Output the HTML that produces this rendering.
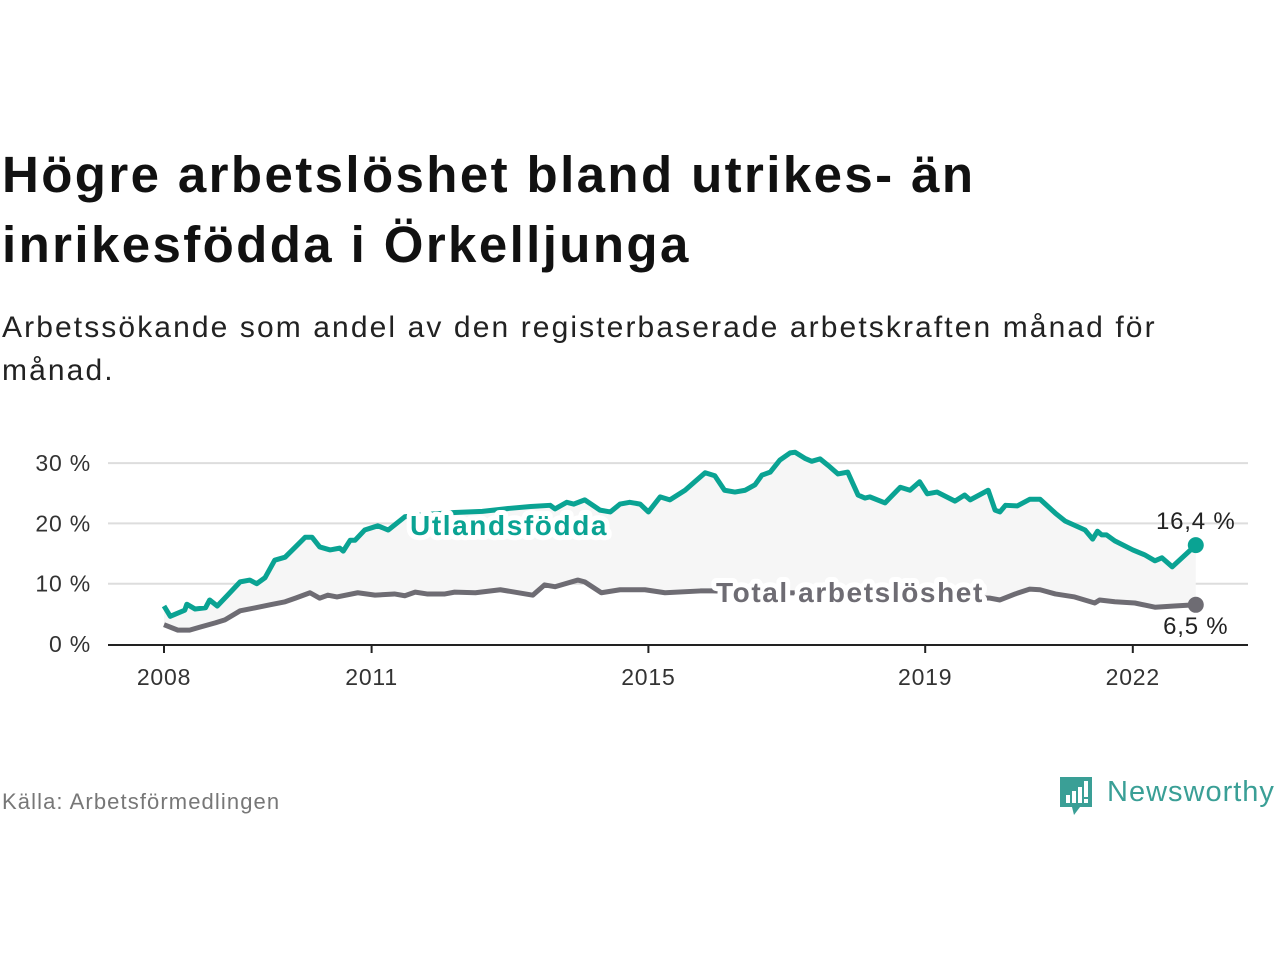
<!DOCTYPE html>
<html><head><meta charset="utf-8">
<style>
body{margin:0;width:1280px;height:960px;background:#fff;font-family:"Liberation Sans",sans-serif;overflow:hidden;position:relative}
h1{position:absolute;left:2px;top:140px;margin:0;font-size:51px;line-height:70px;font-weight:bold;color:#111;letter-spacing:2.4px}
.sub{position:absolute;left:2px;top:306px;font-size:30px;line-height:43px;color:#222;letter-spacing:2.1px}
.src{position:absolute;left:2px;top:789px;font-size:22px;color:#777;letter-spacing:1.1px}
.logo{position:absolute;left:1058px;top:773px}
svg{position:absolute;left:0;top:0}
</style></head><body>
<h1>Högre arbetslöshet bland utrikes- än<br>inrikesfödda i Örkelljunga</h1>
<div class="sub">Arbetssökande som andel av den registerbaserade arbetskraften månad för<br>månad.</div>
<svg id="chart" width="1280" height="960"></svg>
<div class="src">Källa: Arbetsförmedlingen</div>
<div class="logo">
<svg width="222" height="46" style="position:static">
<path d="M2,4 h32 v30 h-12 l-6,8 l-2,-8 h-12 z" fill="#3a9f96"/>
<rect x="8" y="22" width="4" height="8" fill="#fff"/><rect x="14" y="18" width="4" height="12" fill="#fff"/><rect x="20" y="14" width="4" height="16" fill="#fff"/><rect x="26" y="8" width="4" height="16" fill="#fff"/><rect x="26" y="26" width="4" height="4" fill="#fff"/>
<text x="49" y="28" font-size="29" fill="#3a9f96" letter-spacing="1" font-family="Liberation Sans, sans-serif">Newsworthy</text>
</svg></div>
<script>
const yTicks=[0,10,20,30];
const xTickYears=[2008,2011,2015,2019,2022];
const utlDates=[2008.0,2008.09,2008.3,2008.33,2008.45,2008.6,2008.66,2008.77,2008.92,2009.1,2009.24,2009.34,2009.46,2009.6,2009.75,2009.9,2010.04,2010.14,2010.25,2010.4,2010.54,2010.59,2010.69,2010.76,2010.9,2011.09,2011.24,2011.48,2011.8,2012.2,2012.6,2013.0,2013.3,2013.58,2013.65,2013.82,2013.92,2014.08,2014.3,2014.45,2014.59,2014.73,2014.88,2015.0,2015.17,2015.31,2015.53,2015.67,2015.82,2015.96,2016.1,2016.25,2016.4,2016.54,2016.64,2016.76,2016.9,2017.05,2017.12,2017.26,2017.36,2017.48,2017.62,2017.74,2017.88,2018.03,2018.13,2018.2,2018.42,2018.64,2018.78,2018.92,2019.03,2019.17,2019.43,2019.57,2019.65,2019.91,2020.01,2020.08,2020.16,2020.33,2020.51,2020.66,2020.88,2021.02,2021.31,2021.42,2021.49,2021.55,2021.62,2021.74,2022.0,2022.17,2022.32,2022.42,2022.57,2022.91];
const utlValues=[6.3,4.6,5.6,6.6,5.8,6.0,7.3,6.3,8.1,10.3,10.6,10.0,11.0,13.9,14.4,16.1,17.7,17.7,16.1,15.6,15.9,15.4,17.2,17.2,18.9,19.6,18.9,21.1,21.5,21.8,22.0,22.5,22.8,23.0,22.4,23.5,23.2,23.9,22.2,21.9,23.2,23.5,23.2,21.9,24.4,23.9,25.5,26.9,28.4,27.9,25.5,25.2,25.5,26.4,28.0,28.5,30.5,31.7,31.8,30.8,30.3,30.7,29.4,28.2,28.5,24.7,24.2,24.4,23.4,26.0,25.5,26.9,24.9,25.2,23.7,24.7,23.9,25.5,22.2,21.9,23.0,22.9,24.0,24.0,21.7,20.4,18.9,17.4,18.7,18.1,18.1,17.1,15.6,14.8,13.8,14.3,12.8,16.4];
const totDates=[2008.0,2008.2,2008.37,2008.52,2008.74,2008.88,2009.1,2009.32,2009.53,2009.75,2009.9,2010.11,2010.25,2010.37,2010.5,2010.8,2011.05,2011.33,2011.48,2011.63,2011.8,2012.06,2012.2,2012.5,2012.86,2013.33,2013.5,2013.65,2013.98,2014.08,2014.32,2014.59,2014.95,2015.24,2015.75,2015.93,2016.5,2017.0,2017.5,2018.0,2018.5,2019.0,2019.5,2019.94,2020.08,2020.3,2020.51,2020.66,2020.88,2021.16,2021.45,2021.52,2021.74,2022.03,2022.32,2022.6,2022.91];
const totValues=[3.2,2.3,2.3,2.8,3.5,4.0,5.5,6.0,6.5,7.0,7.6,8.5,7.6,8.1,7.8,8.5,8.1,8.3,8.0,8.6,8.3,8.3,8.6,8.5,9.0,8.1,9.8,9.5,10.6,10.3,8.5,9.0,9.0,8.5,8.8,8.8,8.6,8.5,8.4,8.2,8.0,7.9,7.8,7.6,7.3,8.3,9.1,9.0,8.3,7.8,6.8,7.3,7.0,6.8,6.1,6.3,6.5];
const NS='http://www.w3.org/2000/svg';
const svg=document.getElementById('chart');
const X0=164,PXY=69.2,Y0=644,PXV=6.03;
function xs(d){return X0+(d-2008)*PXY;}
function ys(v){return Y0-v*PXV;}
function mk(t,a){const e=document.createElementNS(NS,t);for(const k in a)e.setAttribute(k,a[k]);svg.appendChild(e);return e;}
yTicks.forEach(v=>{
  if(v>0){const g=mk('line',{x1:108,x2:1248,y1:ys(v),y2:ys(v),stroke:'#ddd','stroke-width':2});
  
  }
  const t=mk('text',{x:91,y:ys(v)+8,'text-anchor':'end','font-size':23,fill:'#333','letter-spacing':0.8});t.textContent=v+' %';
  
  
});
const ax=mk('line',{x1:108,x2:1248,y1:Y0+1,y2:Y0+1,stroke:'#222','stroke-width':2});


xTickYears.forEach(y=>{
  const tk=mk('line',{x1:xs(y),x2:xs(y),y1:Y0+1,y2:Y0+9,stroke:'#222','stroke-width':2});
  
  
  const t=mk('text',{x:xs(y),y:685,'text-anchor':'middle','font-size':23,fill:'#333','letter-spacing':0.8});t.textContent=y;
  
  
});
const up=utlDates.map((d,i)=>[xs(d),ys(utlValues[i])]);
const tp=totDates.map((d,i)=>[xs(d),ys(totValues[i])]);
const area=mk('path',{d:'M'+up.map(p=>p.join(',')).join('L')+'L'+tp.slice().reverse().map(p=>p.join(',')).join('L')+'Z',fill:'#f6f6f6'});


const l1=mk('polyline',{points:up.map(p=>p.join(',')).join(' '),fill:'none',stroke:'#0aa393','stroke-width':5,'stroke-linejoin':'round'});


const l2=mk('polyline',{points:tp.map(p=>p.join(',')).join(' '),fill:'none',stroke:'#6e6c73','stroke-width':5,'stroke-linejoin':'round'});


function lab(x,y,txt,col,name){
  const h=mk('text',{x:x,y:y,'font-size':28,'font-weight':'bold',fill:'#fff',stroke:'#fff','stroke-width':10,'stroke-linejoin':'round','letter-spacing':1.6});h.textContent=txt;
  
  
  const t=mk('text',{x:x,y:y,'font-size':28,'font-weight':'bold',fill:col,'letter-spacing':1.6});t.textContent=txt;
  
  
}
lab(410,535,'Utlandsfödda','#0aa393','utlandsfodda-label');
lab(716,602,'Total arbetslöshet','#6e6c73','total-label');
const last1=up[up.length-1],last2=tp[tp.length-1];
const d1=mk('circle',{cx:last1[0],cy:last1[1],r:8,fill:'#0aa393'});


const d2=mk('circle',{cx:last2[0],cy:last2[1],r:8,fill:'#6e6c73'});


const v1=mk('text',{x:last1[0],y:last1[1]-16,'text-anchor':'middle','font-size':24,fill:'#222','letter-spacing':0.8});v1.textContent=String(utlValues[utlValues.length-1]).replace('.',',')+' %';


const v2=mk('text',{x:last2[0],y:last2[1]+29,'text-anchor':'middle','font-size':24,fill:'#222','letter-spacing':0.8});v2.textContent=String(totValues[totValues.length-1]).replace('.',',')+' %';


</script>
</body></html>
